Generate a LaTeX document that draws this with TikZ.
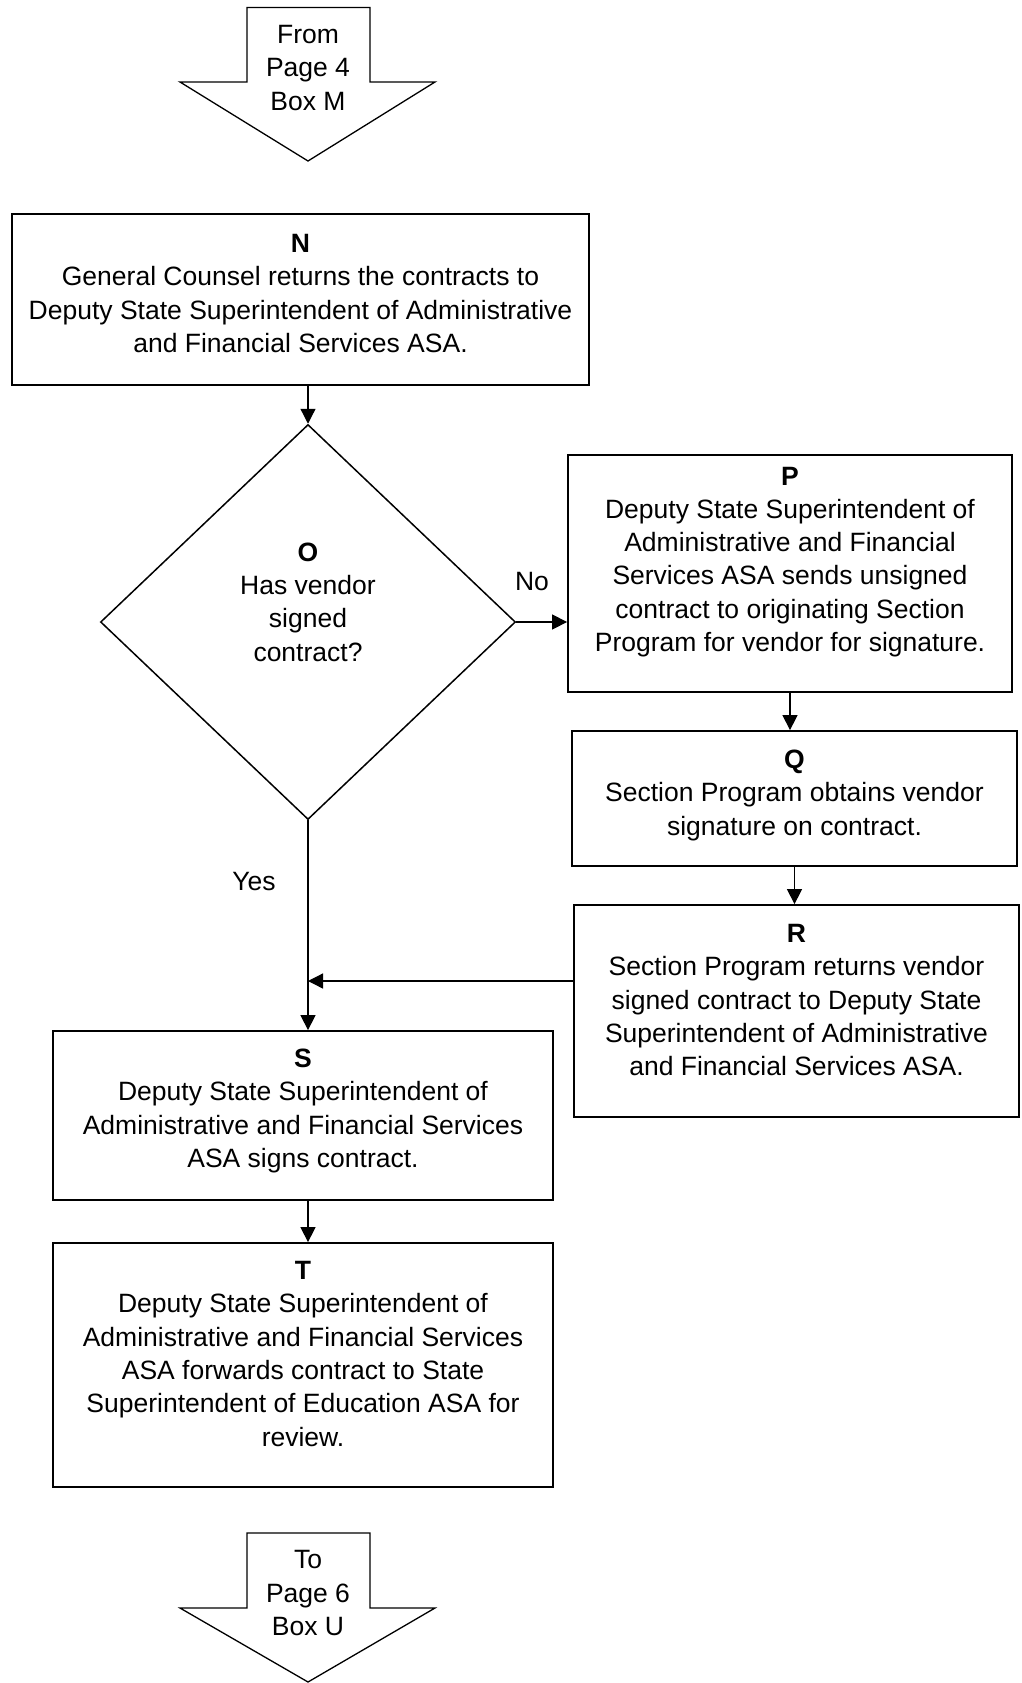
\documentclass[tikz,border=0pt]{standalone}
\usepackage{fontspec}
\setmainfont{Liberation Sans}
\usetikzlibrary{shapes.geometric,arrows.meta,calc}
\tikzset{
  box/.style={draw, line width=1.8pt, inner sep=0pt, rectangle},
  dec/.style={draw, line width=1.5pt, diamond, inner sep=0pt, minimum width=415pt, minimum height=395pt},
  arr/.style={line width=1.3pt, -{Triangle[length=15pt,width=15pt]}},
  blk/.style={draw, line width=1.3pt, fill=white},
  lbl/.style={inner sep=0pt, align=center},
}
\newcommand{\bx}[4]{\parbox[c][#1][t]{#2}{\centering\rule{0pt}{#3}#4}}
\begin{document}
\begin{tikzpicture}[x=1pt,y=-1pt,font=\fontsize{26.5pt}{33.3pt}\selectfont]
\useasboundingbox (0,0) rectangle (1021,1683);
\fill[white] (0,0) rectangle (1021,1683);
% top off-page connector
\draw[blk] (247,7.5) -- (370,7.5) -- (370,82) -- (435,82) -- (308,161) -- (180,82) -- (247,82) -- cycle;
\node[lbl] (from) at (308,68) {From\\Page 4\\Box M};
% boxes
\node[box] (N) at (300.5,299.5) {\bx{171pt}{577pt}{38.5pt}{\textbf{N}\\General Counsel returns the contracts to\\Deputy State Superintendent of Administrative\\and Financial Services ASA.}};
\node[dec] (O) at (308,622) {\parbox{220pt}{\centering\textbf{O}\\Has vendor\\signed\\contract?\par\vspace{40pt}}};
\node[box] (P) at (790,573.5) {\bx{237pt}{444pt}{30pt}{\textbf{P}\\Deputy State Superintendent of\\Administrative and Financial\\Services ASA sends unsigned\\contract to originating Section\\Program for vendor for signature.}};
\node[box] (Q) at (794.5,798.5) {\bx{135pt}{445pt}{37.5pt}{\textbf{Q}\\Section Program obtains vendor\\signature on contract.}};
\node[box] (R) at (796.5,1011) {\bx{212pt}{445pt}{37.5pt}{\textbf{R}\\Section Program returns vendor\\signed contract to Deputy State\\Superintendent of Administrative\\and Financial Services ASA.}};
\node[box] (S) at (303,1115.5) {\bx{169pt}{500pt}{36.5pt}{\textbf{S}\\Deputy State Superintendent of\\Administrative and Financial Services\\ASA signs contract.}};
\node[box] (T) at (303,1365) {\bx{244pt}{500pt}{36.5pt}{\textbf{T}\\Deputy State Superintendent of\\Administrative and Financial Services\\ASA forwards contract to State\\Superintendent of Education ASA for\\review.}};
% bottom off-page connector
\draw[blk] (247,1533) -- (370,1533) -- (370,1608) -- (435,1608) -- (308,1682) -- (180,1608) -- (247,1608) -- cycle;
\node[lbl] (to) at (308,1593) {To\\Page 6\\Box U};
% connectors
\coordinate (J) at (308,981);
\draw[arr] (N.south -| O.north) -- (O.north);
\draw[arr] (O.east) -- (O.east -| P.west);
\draw[arr] (P.south) -- (P.south |- Q.north);
\draw[arr] (Q.south) -- (Q.south |- R.north);
\draw[arr] (J -| R.west) -- (J);
\draw[arr] (O.south) -- (O.south |- S.north);
\draw[arr] (S.south -| O.south) -- (T.north -| O.south);
% labels
\node[lbl] (no) at (532,582) {No};
\node[lbl] (yes) at (254,882) {Yes};
\end{tikzpicture}
\end{document}
